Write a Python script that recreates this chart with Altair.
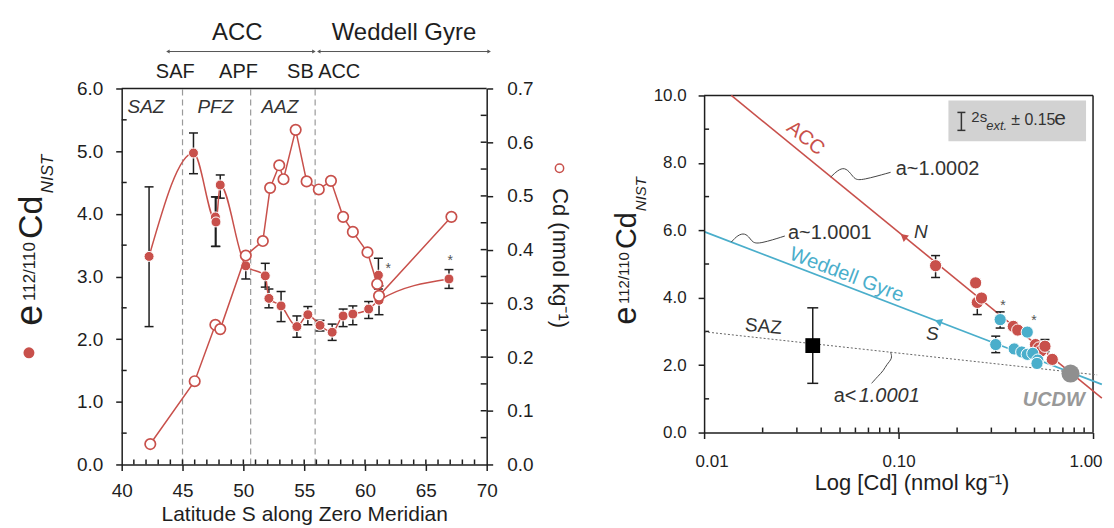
import altair as alt
import pandas as pd

# ================= LEFT PANEL: section along the Zero Meridian =================
lat_e = [42.25, 45.9, 47.7, 47.75, 48.1, 50.2, 51.8, 52.1, 53.1, 54.4,
         55.3, 56.3, 57.3, 58.2, 59.0, 60.3, 61.1, 61.15, 66.9]
e_val = [3.32, 4.97, 3.95, 3.87, 4.46, 3.17, 3.01, 2.65, 2.53, 2.20,
         2.39, 2.22, 2.11, 2.37, 2.40, 2.48, 3.02, 2.62, 2.96]
e_lo = [2.20, 4.64, 3.48, 3.48, 4.25, 2.96, 2.83, 2.50, 2.28, 2.03,
        2.23, 2.13, 1.98, 2.20, 2.23, 2.33, 2.80, 2.39, 2.81]
e_hi = [4.43, 5.29, 4.27, 4.27, 4.62, 3.35, 3.21, 2.80, 2.76, 2.37,
        2.52, 2.30, 2.24, 2.48, 2.53, 2.60, 3.29, 2.85, 3.11]
e_in_line = [1, 1, 0, 1, 1, 1, 1, 1, 1, 1, 1, 1, 1, 1, 1, 1, 0, 1, 1]

lat_cd = [42.35, 46.0, 47.7, 48.1, 50.2, 51.6, 52.2, 52.95, 53.3, 54.3,
          55.2, 56.2, 57.2, 58.2, 59.0, 60.2, 61.0, 61.15, 67.1]
cd_val = [0.038, 0.155, 0.260, 0.252, 0.389, 0.416, 0.515, 0.557, 0.531, 0.623,
          0.527, 0.512, 0.528, 0.461, 0.433, 0.395, 0.336, 0.314, 0.461]

front_lat = [45.0, 50.6, 55.9]
front_names = ["SAF", "APF", "SB ACC"]
front_label_lat = [44.4, 49.6, 56.6]
front_label_e = [6.26, 6.26, 6.26]
zone_names = ["SAZ", "PFZ", "AAZ"]
zone_lat = [42.0, 47.7, 53.0]
zone_e = [5.71, 5.71, 5.71]
region_names = ["ACC", "Weddell Gyre"]
region_lat = [49.5, 63.2]
region_e = [6.89, 6.89]
region_start = [43.8, 56.2]
region_end = [55.8, 70.2]
region_arrow_e = [6.59, 6.59]
star_lat = [61.9, 67.0]
star_e = [3.12, 3.24]

lat_ticks = [40, 45, 50, 55, 60, 65, 70]
lat_minor = [41, 42, 43, 44, 45, 46, 47, 48, 49, 50, 51, 52, 53, 54, 55,
             56, 57, 58, 59, 60, 61, 62, 63, 64, 65, 66, 67, 68, 69]
e_ticks = [0, 1, 2, 3, 4, 5, 6]
e_minor = [0.5, 1.5, 2.5, 3.5, 4.5, 5.5]
cd_ticks = [0.0, 0.1, 0.2, 0.3, 0.4, 0.5, 0.6, 0.7]
cd_minor = [0.05, 0.1, 0.15, 0.2, 0.25, 0.3, 0.35, 0.4, 0.45, 0.5, 0.55, 0.6, 0.65]

# ================= RIGHT PANEL: e vs log [Cd] =================
acc_cd = [0.155, 0.249, 0.254, 0.267, 0.389, 0.410, 0.506, 0.527, 0.540, 0.566, 0.617]
acc_e = [4.95, 4.44, 3.86, 3.99, 3.15, 3.04, 2.61, 2.51, 2.42, 2.56, 2.17]
wg_cd = [0.333, 0.459, 0.316, 0.393, 0.430, 0.459, 0.490, 0.520, 0.515]
wg_e = [3.35, 2.98, 2.61, 2.48, 2.39, 2.32, 2.35, 2.15, 2.05]
ucdw_cd = [0.766]
ucdw_e = [1.75]
saz_cd = [0.0362]
saz_e = [2.58]
saz_lo = [1.46]
saz_hi = [3.70]
err_cd = [0.155, 0.254, 0.333, 0.316, 0.566]
err_lo = [4.60, 3.50, 3.10, 2.37, 2.40]
err_hi = [5.25, 3.95, 3.58, 2.86, 2.76]
rstar_cd = [0.344, 0.497]
rstar_e = [3.74, 3.30]

acc_line_cd = [0.0138, 1.11]
acc_line_e = [10.0, 1.02]
wg_line_cd = [0.01, 1.11]
wg_line_e = [5.96, 1.43]
saz_line_cd = [0.01, 1.05]
saz_line_e = [2.99, 1.71]

sq1_cd = [0.0448, 0.0486, 0.0528, 0.0568, 0.0595, 0.0646, 0.0910]
sq1_e = [7.58, 7.78, 7.87, 7.69, 7.51, 7.48, 7.72]
sq2_cd = [0.0138, 0.0149, 0.0162, 0.0172, 0.0178, 0.0194, 0.0260]
sq2_e = [5.65, 5.86, 5.92, 5.77, 5.63, 5.60, 5.83]
sq3_cd = [0.0910, 0.0931, 0.0868, 0.0838, 0.0780, 0.0727]
sq3_e = [2.38, 2.20, 2.02, 1.84, 1.66, 1.46]

cdx_ticks = [0.01, 0.1, 1.0]
cdx_minor = [0.02, 0.03, 0.04, 0.05, 0.06, 0.07, 0.08, 0.09, 0.1,
             0.2, 0.3, 0.4, 0.5, 0.6, 0.7, 0.8, 0.9]
er_ticks = [0, 2, 4, 6, 8, 10]
er_minor = [1, 3, 5, 7, 9]

# ================= styles =================
RED = "#c8504b"
BLUE = "#4aaecb"
GREY = "#8f8f8f"
INK = "#1e1e1e"
FONT = "Liberation Sans"

W1, H1 = 366, 377
W2, H2 = 390, 345

xL = alt.Scale(domain=[40, 70], nice=False, zero=False)
yE = alt.Scale(domain=[0, 6], nice=False, zero=False)
yC = alt.Scale(domain=[0, 0.7], nice=False, zero=False)
xR = alt.Scale(type="log", domain=[0.01, 1.0], nice=False)
yR = alt.Scale(domain=[0, 10], nice=False, zero=False, range=[H2, 7])

ax_base = dict(grid=False, domainColor=INK, domainWidth=1.5, tickColor=INK, tickWidth=1.5,
               tickSize=6, labelColor=INK, labelFont=FONT, zindex=1, titleFont=FONT,
               titleColor=INK, titleFontWeight="normal", labelOverlap=False)

xaxisL = alt.Axis(values=lat_ticks, format="d", labelFontSize=19, labelPadding=11, labelFlush=False,
                  title="Latitude S along Zero Meridian", titleFontSize=21, titlePadding=3, **ax_base)
yaxisE = alt.Axis(values=e_ticks, format=".1f", labelFontSize=19, labelPadding=13, labelFlush=False,
                  title=None, orient="left", **ax_base)
yaxisC = alt.Axis(values=cd_ticks, format=".1f", labelFontSize=19, labelPadding=14, labelFlush=False,
                  title=None, orient="right", **ax_base)
xaxisR = alt.Axis(values=cdx_ticks, format=".2f", labelFontSize=17, labelPadding=15,
                  labelFlush=True, labelFlushOffset=9,
                  title="Log [Cd] (nmol kg\u207b\u00b9)", titleFontSize=22, titlePadding=3,
                  titleX=208, **ax_base)
yaxisR = alt.Axis(values=er_ticks, format=".1f", labelFontSize=17, labelPadding=12, labelFlush=False,
                  title=None, orient="left", **ax_base)


# every layer sharing a scale carries the identical axis definition
def xl(f):
    return alt.X(f"{f}:Q", scale=xL, axis=xaxisL)


def ye(f):
    return alt.Y(f"{f}:Q", scale=yE, axis=yaxisE)


def yc(f):
    return alt.Y(f"{f}:Q", scale=yC, axis=yaxisC)


def xr(f):
    return alt.X(f"{f}:Q", scale=xR, axis=xaxisR)


def yr(f):
    return alt.Y(f"{f}:Q", scale=yR, axis=yaxisR)


one = pd.DataFrame({"k": [0]})


def ptext(txt, x, y, size, angle=0, italic=False, color=INK, align="left", baseline="alphabetic", weight="normal"):
    kw = dict(text=txt, fontSize=size, color=color, align=align, baseline=baseline,
              font=FONT, fontWeight=weight)
    if angle:
        kw["angle"] = angle
    if italic:
        kw["fontStyle"] = "italic"
    return alt.Chart(one).mark_text(**kw).encode(x=alt.value(x), y=alt.value(y))


# ---------------- left panel: e layers ----------------
df_e = pd.DataFrame({"lat": lat_e, "e": e_val, "lo": e_lo, "hi": e_hi, "inl": e_in_line})
df_eline = df_e[df_e["inl"] == 1]
df_cd = pd.DataFrame({"lat": lat_cd, "cd": cd_val})
df_front = pd.DataFrame({"lat": front_lat, "y0": [0] * 3, "y1": [6] * 3})
df_flab = pd.DataFrame({"lat": front_label_lat, "e": front_label_e, "t": front_names})
df_zone = pd.DataFrame({"lat": zone_lat, "e": zone_e, "t": zone_names})
df_reg = pd.DataFrame({"lat": region_lat, "e": region_e, "t": region_names,
                       "a0": region_start, "a1": region_end, "ae": region_arrow_e})
df_star = pd.DataFrame({"lat": star_lat, "e": star_e})

bg = alt.Chart(one).mark_rect(fill="white").encode(
    x=alt.value(-114), x2=alt.value(984), y=alt.value(-80), y2=alt.value(432))

fronts = alt.Chart(df_front).mark_rule(color="#9a9a9a", strokeDash=[6, 4], strokeWidth=1.2).encode(
    x=xl("lat"), y=ye("y0"), y2=alt.Y2("y1"))

top_frame = alt.Chart(pd.DataFrame({"a": [40], "b": [70], "e": [6]})).mark_rule(
    color=INK, strokeWidth=1.5).encode(x=xl("a"), x2=alt.X2("b"), y=ye("e"))

minor_e = alt.Chart(pd.DataFrame({"e": e_minor})).mark_rule(color=INK, strokeWidth=1.5).encode(
    y=ye("e"), x=alt.value(0), x2=alt.value(5))
minor_x = alt.Chart(pd.DataFrame({"lat": lat_minor})).mark_rule(color=INK, strokeWidth=1.5).encode(
    x=xl("lat"), y=alt.value(H1 - 5), y2=alt.value(H1))

reg_lines = alt.Chart(df_reg).mark_rule(color="#555", strokeWidth=1).encode(
    x=xl("a0"), x2=alt.X2("a1"), y=ye("ae"))
reg_head_l = alt.Chart(df_reg).mark_point(shape="triangle-left", filled=True, size=16,
                                          color="#555", opacity=1).encode(x=xl("a0"), y=ye("ae"))
reg_head_r = alt.Chart(df_reg).mark_point(shape="triangle-right", filled=True, size=16,
                                          color="#555", opacity=1).encode(x=xl("a1"), y=ye("ae"))
reg_text = alt.Chart(df_reg).mark_text(fontSize=24, color=INK, font=FONT, baseline="middle").encode(
    x=xl("lat"), y=ye("e"), text="t:N")
front_text = alt.Chart(df_flab).mark_text(fontSize=20, color=INK, font=FONT, baseline="middle").encode(
    x=xl("lat"), y=ye("e"), text="t:N")
zone_text = alt.Chart(df_zone).mark_text(fontSize=19, color="#333", font=FONT, fontStyle="italic",
                                         baseline="middle").encode(x=xl("lat"), y=ye("e"), text="t:N")

err_rule = alt.Chart(df_e).mark_rule(color=INK, strokeWidth=1.5).encode(
    x=xl("lat"), y=ye("lo"), y2=alt.Y2("hi"))
err_cap_lo = alt.Chart(df_e).mark_tick(orient="horizontal", size=9, thickness=1.5, color=INK,
                                       opacity=1).encode(x=xl("lat"), y=ye("lo"))
err_cap_hi = alt.Chart(df_e).mark_tick(orient="horizontal", size=9, thickness=1.5, color=INK,
                                       opacity=1).encode(x=xl("lat"), y=ye("hi"))

e_line = alt.Chart(df_eline).mark_line(color=RED, strokeWidth=1.5, interpolate="monotone").encode(
    x=xl("lat"), y=ye("e"))
e_pts = alt.Chart(df_e).mark_circle(size=100, color=RED, opacity=1, stroke="white", strokeWidth=1).encode(
    x=xl("lat"), y=ye("e"))
e_star = alt.Chart(df_star).mark_text(text="*", fontSize=14, color="#555", font=FONT,
                                      baseline="middle").encode(x=xl("lat"), y=ye("e"))

title_left = [
    ptext("e", -80, 238, 38, angle=270),
    ptext("112/110", -87, 213, 17, angle=270),
    ptext("Cd", -80, 151, 34, angle=270),
    ptext("NIST", -69, 105, 17, angle=270, italic=True),
]
legend_dot = alt.Chart(one).mark_circle(size=120, color=RED, opacity=1).encode(
    x=alt.value(-93), y=alt.value(265))

layer_e = alt.layer(bg, fronts, top_frame, minor_e, minor_x, reg_lines, reg_head_l, reg_head_r,
                    reg_text, front_text, zone_text, err_rule, err_cap_lo, err_cap_hi, e_line, e_pts,
                    e_star, legend_dot, *title_left)

# ---------------- left panel: Cd layers ----------------
minor_c = alt.Chart(pd.DataFrame({"cd": cd_minor})).mark_rule(color=INK, strokeWidth=1.5).encode(
    y=yc("cd"), x=alt.value(W1 - 6), x2=alt.value(W1))
cd_line = alt.Chart(df_cd).mark_line(color=RED, strokeWidth=1.5).encode(
    x=xl("lat"), y=yc("cd"))
cd_pts = alt.Chart(df_cd).mark_circle(size=110, fill="white", stroke=RED, strokeWidth=1.7,
                                      opacity=1).encode(x=xl("lat"), y=yc("cd"))
cd_leg = alt.Chart(one).mark_circle(size=70, fill="white", stroke=RED, strokeWidth=1.5,
                                    opacity=1).encode(x=alt.value(439), y=alt.value(80))
cd_title = ptext("Cd (nmol kg\u207b\u00b9)", 432, 100, 22, angle=90)

layer_cd = alt.layer(minor_c, cd_line, cd_pts, cd_leg, cd_title)

left = alt.layer(layer_e, layer_cd).resolve_scale(y="independent").properties(width=W1, height=H1)

# ---------------- right panel ----------------
frame_r = alt.Chart(pd.DataFrame({"a": [0.01], "b": [1.0], "e": [10]})).mark_rule(
    color=INK, strokeWidth=1.5).encode(x=xr("a"), x2=alt.X2("b"), y=yr("e"))
frame_r2 = alt.Chart(pd.DataFrame({"c": [1.0], "e0": [0], "e1": [10]})).mark_rule(
    color=INK, strokeWidth=1.5).encode(x=xr("c"), y=yr("e0"), y2=alt.Y2("e1"))
minor_rx = alt.Chart(pd.DataFrame({"c": cdx_minor})).mark_rule(color=INK, strokeWidth=1.5).encode(
    x=xr("c"), y=alt.value(H2 - 5), y2=alt.value(H2))
minor_ry = alt.Chart(pd.DataFrame({"e": er_minor})).mark_rule(color=INK, strokeWidth=1.5).encode(
    y=yr("e"), x=alt.value(0), x2=alt.value(5))

box = alt.Chart(one).mark_rect(fill="#d2d2d2").encode(
    x=alt.value(245), x2=alt.value(383), y=alt.value(12), y2=alt.value(53))
box_bar = alt.Chart(one).mark_rule(color="#333", strokeWidth=1.5).encode(
    x=alt.value(258), y=alt.value(24), y2=alt.value(42))
box_cap1 = alt.Chart(one).mark_rule(color="#333", strokeWidth=1.5).encode(
    x=alt.value(254), x2=alt.value(262), y=alt.value(24))
box_cap2 = alt.Chart(one).mark_rule(color="#333", strokeWidth=1.5).encode(
    x=alt.value(254), x2=alt.value(262), y=alt.value(42))
box_t1 = ptext("2s", 268, 34, 15, color="#333")
box_t2 = ptext("ext.", 283, 42, 13, italic=True, color="#333")
box_t3 = ptext("\u00b1 0.15", 308, 37, 16, color="#333")
box_t4 = ptext("e", 351, 37, 21, color="#333")

df_accl = pd.DataFrame({"c": acc_line_cd, "e": acc_line_e})
df_wgl = pd.DataFrame({"c": wg_line_cd, "e": wg_line_e})
df_sazl = pd.DataFrame({"c": saz_line_cd, "e": saz_line_e})
acc_l = alt.Chart(df_accl).mark_line(color=RED, strokeWidth=1.6).encode(x=xr("c"), y=yr("e"))
wg_l = alt.Chart(df_wgl).mark_line(color=BLUE, strokeWidth=1.8).encode(x=xr("c"), y=yr("e"))
saz_l = alt.Chart(df_sazl).mark_line(color="#666", strokeWidth=1, strokeDash=[2, 2]).encode(
    x=xr("c"), y=yr("e"))

sq1 = alt.Chart(pd.DataFrame({"c": sq1_cd, "e": sq1_e, "i": list(range(len(sq1_cd)))})).mark_line(
    color="#444", strokeWidth=1, interpolate="basis").encode(x=xr("c"), y=yr("e"), order="i:Q")
sq2 = alt.Chart(pd.DataFrame({"c": sq2_cd, "e": sq2_e, "i": list(range(len(sq2_cd)))})).mark_line(
    color="#444", strokeWidth=1, interpolate="basis").encode(x=xr("c"), y=yr("e"), order="i:Q")
sq3 = alt.Chart(pd.DataFrame({"c": sq3_cd, "e": sq3_e, "i": list(range(len(sq3_cd)))})).mark_line(
    color="#444", strokeWidth=1, interpolate="basis").encode(x=xr("c"), y=yr("e"), order="i:Q")

arr_red = alt.Chart(pd.DataFrame({"c": [0.106], "e": [5.82]})).mark_point(
    shape="triangle-up", filled=True, size=70, color=RED, opacity=1, angle=309).encode(
    x=xr("c"), y=yr("e"))
arr_blue = alt.Chart(pd.DataFrame({"c": [0.160], "e": [3.29]})).mark_point(
    shape="triangle-up", filled=True, size=70, color=BLUE, opacity=1, angle=291).encode(
    x=xr("c"), y=yr("e"))


def dtext(txt, c, e, size, color=INK, angle=0, italic=False, align="center", weight="normal"):
    kw = dict(text=txt, fontSize=size, color=color, align=align, baseline="middle",
              font=FONT, fontWeight=weight)
    if angle:
        kw["angle"] = angle
    if italic:
        kw["fontStyle"] = "italic"
    return alt.Chart(pd.DataFrame({"c": [c], "e": [e]})).mark_text(**kw).encode(x=xr("c"), y=yr("e"))


r_texts = [
    dtext("ACC", 0.0333, 8.73, 20, color=RED, angle=39),
    dtext("Weddell Gyre", 0.0541, 4.68, 20, color=BLUE, angle=21),
    dtext("N", 0.130, 5.96, 19, italic=True, color="#333"),
    dtext("S", 0.149, 2.91, 19, italic=True, color="#333"),
    dtext("a~1.0002", 0.0966, 7.81, 20, align="left", color="#333"),
    dtext("a~1.0001", 0.0270, 5.92, 20, align="left", color="#333"),
    dtext("SAZ", 0.0202, 3.15, 19, angle=5, color="#333"),
    dtext("a<", 0.0464, 1.07, 20, align="left", color="#333"),
    dtext("1.0001", 0.0624, 1.07, 20, align="left", italic=True, color="#333"),
    dtext("UCDW", 0.628, 0.96, 20, color="#999", italic=True, weight="bold"),
]

df_err = pd.DataFrame({"c": err_cd, "lo": err_lo, "hi": err_hi})
df_saz = pd.DataFrame({"c": saz_cd, "e": saz_e, "lo": saz_lo, "hi": saz_hi})
r_err = alt.Chart(df_err).mark_rule(color=INK, strokeWidth=1.5).encode(
    x=xr("c"), y=yr("lo"), y2=alt.Y2("hi"))
r_cap1 = alt.Chart(df_err).mark_tick(orient="horizontal", size=9, thickness=1.5, color=INK,
                                     opacity=1).encode(x=xr("c"), y=yr("lo"))
r_cap2 = alt.Chart(df_err).mark_tick(orient="horizontal", size=9, thickness=1.5, color=INK,
                                     opacity=1).encode(x=xr("c"), y=yr("hi"))
s_err = alt.Chart(df_saz).mark_rule(color=INK, strokeWidth=1.5).encode(
    x=xr("c"), y=yr("lo"), y2=alt.Y2("hi"))
s_cap1 = alt.Chart(df_saz).mark_tick(orient="horizontal", size=11, thickness=1.5, color=INK,
                                     opacity=1).encode(x=xr("c"), y=yr("lo"))
s_cap2 = alt.Chart(df_saz).mark_tick(orient="horizontal", size=11, thickness=1.5, color=INK,
                                     opacity=1).encode(x=xr("c"), y=yr("hi"))

acc_pts = alt.Chart(pd.DataFrame({"c": acc_cd, "e": acc_e})).mark_circle(
    size=150, color=RED, opacity=1, stroke="white", strokeWidth=1).encode(x=xr("c"), y=yr("e"))
wg_pts = alt.Chart(pd.DataFrame({"c": wg_cd, "e": wg_e})).mark_circle(
    size=150, color=BLUE, opacity=1, stroke="white", strokeWidth=1).encode(x=xr("c"), y=yr("e"))
ucdw_pt = alt.Chart(pd.DataFrame({"c": ucdw_cd, "e": ucdw_e})).mark_circle(
    size=330, color=GREY, opacity=1).encode(x=xr("c"), y=yr("e"))
saz_pt = alt.Chart(df_saz).mark_square(size=220, color="black", opacity=1).encode(
    x=xr("c"), y=yr("e"))
r_star = alt.Chart(pd.DataFrame({"c": rstar_cd, "e": rstar_e})).mark_text(
    text="*", fontSize=14, color="#555", font=FONT, baseline="middle").encode(x=xr("c"), y=yr("e"))

title_right = [
    ptext("e", -68, 237, 33, angle=270),
    ptext("112/110", -75, 216, 15, angle=270),
    ptext("Cd", -68, 161, 29, angle=270),
    ptext("NIST", -58, 123, 15, angle=270, italic=True),
]

right = alt.layer(frame_r, frame_r2, minor_rx, minor_ry, box, box_bar, box_cap1, box_cap2,
                  box_t1, box_t2, box_t3, box_t4, saz_l, acc_l, wg_l, sq1, sq2, sq3,
                  arr_red, arr_blue, *r_texts, r_err, r_cap1, r_cap2, s_err, s_cap1, s_cap2,
                  acc_pts, wg_pts, ucdw_pt, saz_pt, r_star, *title_right).properties(
    width=W2, height=H2)

chart = alt.hconcat(left, right, spacing=218, bounds="flush", padding=0).configure(
    font=FONT).configure_view(stroke=None)

chart.save("out.html", embed_options={"renderer": "svg", "actions": False})
